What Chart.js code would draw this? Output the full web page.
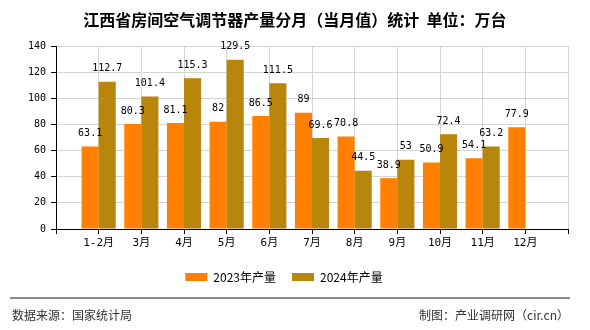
<!DOCTYPE html>
<html>
<head>
<meta charset="utf-8">
<script src="https://cdn.jsdelivr.net/npm/chart.js@4/dist/chart.umd.min.js"></script>
<style>
  html, body { margin: 0; padding: 0; background: #fff; }
  #wrap { position: relative; width: 590px; height: 330px; overflow: hidden; }
  #chart { position: absolute; left: 0; top: 0; }
  .title { position: absolute; left: 0; top: 8px; width: 590px; text-align: center;
           font: bold 16px "Noto Sans CJK SC", sans-serif; color: #000; line-height: 22px; }
  .rule { position: absolute; left: 10px; top: 297px; width: 560px; height: 0; border-top: 2px solid #8a8a8a; }
  .foot { position: absolute; top: 306px; font: 12px "Noto Sans CJK SC", sans-serif; color: #333; line-height: 18px; }
</style>
</head>
<body>
<div id="wrap">
  <canvas id="chart" width="590" height="330"></canvas>
  <div class="title">江西省房间空气调节器产量分月（当月值）统计&nbsp;&nbsp;单位：万台</div>
  <div class="rule"></div>
  <div class="foot" style="left:12px">数据来源：国家统计局</div>
  <div class="foot" style="right:21px">制图：产业调研网（cir.cn）</div>
</div>
<script>
(function() {
  // data
  var months = ['1-2月', '3月', '4月', '5月', '6月', '7月', '8月', '9月', '10月', '11月', '12月'];
  var output2023 = [63.1, 80.3, 81.1, 82, 86.5, 89, 70.8, 38.9, 50.9, 54.1, 77.9];
  var output2024 = [112.7, 101.4, 115.3, 129.5, 111.5, 69.6, 44.5, 53, 72.4, 63.2, null];
  var yTicks = [0, 20, 40, 60, 80, 100, 120, 140];

  // empty slot at each end so the axis runs one category past both sides
  var pad = function(arr) { return [null].concat(arr, [null]); };
  var labels = [''].concat(months, ['']);

  var numFont = { family: "'DejaVu Sans Mono', 'Noto Sans CJK SC', monospace", size: 10 };

  var valueLabels = {
    id: 'valueLabels',
    afterDatasetsDraw: function(chart) {
      var ctx = chart.ctx;
      ctx.save();
      ctx.font = numFont.size + 'px ' + numFont.family;
      ctx.fillStyle = '#000';
      ctx.textAlign = 'center';
      ctx.textBaseline = 'middle';
      chart.data.datasets.forEach(function(ds, i) {
        var meta = chart.getDatasetMeta(i);
        meta.data.forEach(function(bar, j) {
          var v = ds.data[j];
          if (v === null || v === undefined) return;
          ctx.fillText(String(v), bar.x, bar.y - 13);
        });
      });
      ctx.restore();
    }
  };

  new Chart(document.getElementById('chart').getContext('2d'), {
    type: 'bar',
    data: {
      labels: labels,
      datasets: [{
        label: '2023年产量',
        data: pad(output2023),
        backgroundColor: '#FF8000',
        borderWidth: 0
      }, {
        label: '2024年产量',
        data: pad(output2024),
        backgroundColor: '#B8860B',
        borderWidth: 0
      }]
    },
    options: {
      responsive: false,
      animation: false,
      events: [],
      layout: { padding: { left: 0, right: 22, top: 46, bottom: 37 } },
      datasets: { bar: { categoryPercentage: 0.8, barPercentage: 1 } },
      scales: {
        x: {
          offset: false,
          grid: { offset: false, color: '#d4d4d4', tickColor: '#000', tickLength: 5, drawOnChartArea: true },
          border: { color: '#000', width: 1 },
          ticks: { autoSkip: false, maxRotation: 0, padding: 3, color: '#000',
                   font: { family: numFont.family, size: 11 } },
          afterFit: function(scale) { scale.height = 26; }
        },
        y: {
          min: yTicks[0],
          max: yTicks[yTicks.length - 1],
          afterBuildTicks: function(scale) {
            scale.ticks = yTicks.map(function(v) { return { value: v }; });
          },
          grid: { color: '#d4d4d4', tickColor: '#000', tickLength: 5 },
          border: { color: '#000', width: 1 },
          ticks: { padding: 5, color: '#000', font: numFont },
          afterFit: function(scale) { scale.width = 56; }
        }
      },
      plugins: {
        legend: {
          position: 'bottom',
          labels: {
            boxWidth: 22,
            boxHeight: 8,
            padding: 16,
            color: '#000',
            font: { family: "'Noto Sans CJK SC', sans-serif", size: 12 }
          }
        },
        tooltip: { enabled: false },
        title: { display: false }
      }
    },
    plugins: [valueLabels]
  });
})();
</script>
</body>
</html>
